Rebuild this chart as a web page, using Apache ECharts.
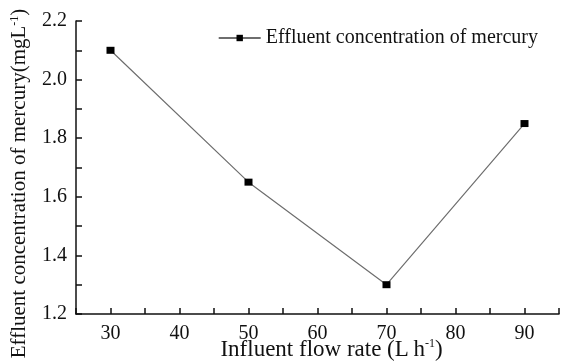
<!DOCTYPE html>
<html>
<head>
<meta charset="utf-8">
<script src="https://cdn.jsdelivr.net/npm/echarts@6/dist/echarts.min.js"></script>
<style>
  html, body { margin: 0; padding: 0; background: #fff; }
  #chart { width: 561px; height: 363px; }
</style>
</head>
<body>
<div id="chart"></div>
<script>
// data
const flowRate = [30, 50, 70, 90]
const mercury = [2.10, 1.65, 1.30, 1.85]
const seriesName = 'Effluent concentration of mercury'

const serif = '"Liberation Serif", "Times New Roman", serif'
const ink = '#111'
const supStyle = { fontSize: 12, verticalAlign: 'top', padding: [0, 0, 9, 0], fontFamily: serif, color: ink }

const chart = echarts.init(document.getElementById('chart'))

chart.setOption({
  animation: false,
  backgroundColor: '#fff',
  textStyle: { fontFamily: serif, color: ink },
  legend: {
    right: 18,
    top: 23,
    itemWidth: 42,
    itemHeight: 8,
    itemGap: 6,
    textStyle: { fontFamily: serif, fontSize: 20, color: ink },
    data: [seriesName]
  },
  grid: {
    left: 76,
    right: 2,
    top: 21,
    bottom: 49,
    outerBoundsMode: 'none'
  },
  xAxis: {
    type: 'value',
    min: 25,
    max: 95,
    interval: 5,
    name: 'Influent flow rate (L\u2009h{sup|-1})',
    nameLocation: 'middle',
    nameGap: 24,
    nameMoveOverlap: false,
    nameTextStyle: {
      fontFamily: serif,
      fontSize: 23,
      color: ink,
      padding: [0, 0, 0, 28],
      rich: { sup: supStyle }
    },
    axisLine: { show: true, lineStyle: { color: ink, width: 1.5 } },
    axisTick: { show: true, inside: true, length: 6, lineStyle: { color: ink, width: 1.5 } },
    axisLabel: {
      fontFamily: serif,
      fontSize: 20,
      color: ink,
      margin: 10,
      formatter: v => (v % 10 === 0 ? String(v) : '')
    },
    splitLine: { show: false }
  },
  yAxis: {
    type: 'value',
    min: 1.2,
    max: 2.2,
    interval: 0.2,
    name: 'Effluent concentration of mercury(mgL{sup|-1})',
    nameLocation: 'middle',
    nameGap: 46,
    nameMoveOverlap: false,
    nameTextStyle: {
      fontFamily: serif,
      fontSize: 21,
      color: ink,
      padding: [0, 32, 0, 0],
      rich: { sup: supStyle }
    },
    axisLine: { show: true, lineStyle: { color: ink, width: 1.5 } },
    axisTick: { show: true, inside: true, length: 6, lineStyle: { color: ink, width: 1.5 } },
    minorTick: { show: true, splitNumber: 2, length: 6, lineStyle: { color: ink, width: 1.5 } },
    axisLabel: {
      fontFamily: serif,
      fontSize: 20,
      color: ink,
      margin: 9,
      formatter: v => v.toFixed(1)
    },
    splitLine: { show: false }
  },
  series: [{
    name: seriesName,
    type: 'line',
    data: flowRate.map((x, i) => [x, mercury[i]]),
    symbol: 'rect',
    symbolSize: [8, 7],
    itemStyle: { color: '#000' },
    lineStyle: { color: '#6e6e6e', width: 1.2 }
  }]
})
</script>
</body>
</html>
